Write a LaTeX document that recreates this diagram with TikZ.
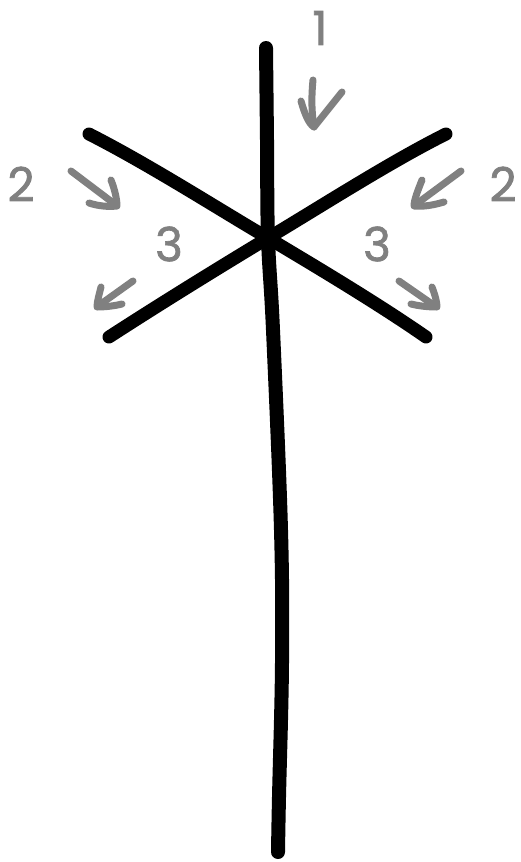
\documentclass[tikz,border=0pt]{standalone}
\usepackage{fontspec}
\newfontfamily\numfont[FakeBold=1.5]{Poppins}
\definecolor{markgray}{RGB}{128,128,128}
\tikzset{
  stroke/.style={line width=14pt,line cap=round,line join=round,black},
  garrow/.style={line width=7pt,line cap=round,line join=round,markgray},
  num/.style={text=markgray,font=\numfont\fontsize{47}{47}\selectfont,inner sep=0pt,anchor=center}
}
\begin{document}
\begin{tikzpicture}[x=1pt,y=-1pt]
\useasboundingbox[fill=white] (0,0) rectangle (521,862);
% main strokes
\draw[stroke] plot[smooth,tension=0.6] coordinates {(266,48) (267,140) (268,238) (273,330) (281,530) (282,663) (279,797) (278,852)};
\draw[stroke,line width=13pt] (89,134) .. controls (150,165) and (220,210) .. (268,238) .. controls (320,269) and (380,305) .. (426,337);
\draw[stroke,line width=13pt] (446,134) .. controls (390,162) and (320,207) .. (268,238) .. controls (215,270) and (160,304) .. (109,337);
% labels
\node[num] (n1) at (320,28) {1};
\node[num] (n2l) at (21,184) {2};
\node[num] (n2r) at (503,184) {2};
\node[num] (n3l) at (169,244) {3};
\node[num] (n3r) at (377,244) {3};
% arrows
\draw[garrow] (313,80) .. controls (311,100) and (312,115) .. (314,127);
\draw[garrow] (301,101) .. controls (305,115) and (309,124) .. (314,127) -- (342,92);
\draw[garrow] (71,171) -- (116,205);
\draw[garrow] (111,180) .. controls (115,190) and (117,200) .. (117,206) .. controls (108,207) and (98,206) .. (89,203);
\draw[garrow] (461,171) -- (415,205);
\draw[garrow] (422,180) .. controls (418,190) and (414,200) .. (414,206) .. controls (423,207) and (434,205) .. (444,202);
\draw[garrow] (133,281) -- (98,306);
\draw[garrow] (101,287) .. controls (99,295) and (97,302) .. (97,307) .. controls (105,307) and (114,306) .. (122,304);
\draw[garrow] (399,281) -- (435,306);
\draw[garrow] (432,287) .. controls (435,295) and (437,302) .. (437,307) .. controls (428,307) and (419,306) .. (411,304);
\end{tikzpicture}
\end{document}
